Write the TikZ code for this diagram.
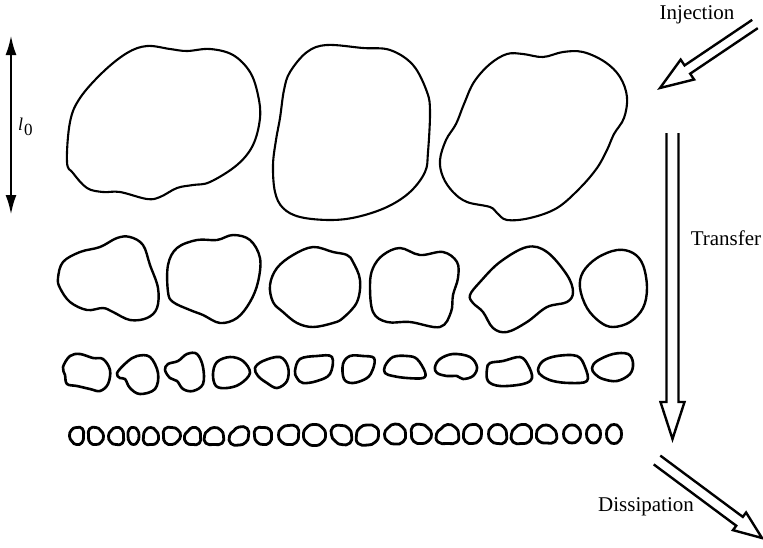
\documentclass[tikz,border=0pt]{standalone}
\usepackage{fontspec}
\setmainfont{Liberation Serif}
\usetikzlibrary{calc,arrows.meta}
\tikzset{
 bigb/.style={line width=2.1pt, line join=round},
 midb/.style={line width=2.4pt, line join=round},
 smlb/.style={line width=2.6pt, line join=round},
 tinyb/.style={line width=2.8pt, line join=round},
 hol/.style={line width=2.4pt, line join=miter},
 lbl/.style={font=\fontsize{21}{25}\selectfont, inner sep=0pt},
 lenarrow/.style={line width=2.8pt, {Latex[length=20pt,width=11pt]}-{Latex[length=20pt,width=11pt]}},
}
\newcommand\hollowarrow[5]{%
 \coordinate (hb) at ($(#2)!#5!(#1)$);
 \draw[hol] ($(#1)!#3!90:(#2)$) -- ($(hb)!#3!90:(#2)$) -- ($(hb)!#4!90:(#2)$) -- (#2)
   -- ($(hb)!#4!-90:(#2)$) -- ($(hb)!#3!-90:(#2)$) -- ($(#1)!#3!-90:(#2)$);
}
\newcommand\sblob[8]{\draw[tinyb] plot[smooth cycle, tension=0.9] coordinates {
({#1+#3},{#2}) ({#1+0.7071*#5*#3},{#2+0.7071*#5*#4}) ({#1},{#2+#4}) ({#1-0.7071*#6*#3},{#2+0.7071*#6*#4})
({#1-#3},{#2}) ({#1-0.7071*#7*#3},{#2-0.7071*#7*#4}) ({#1},{#2-#4}) ({#1+0.7071*#8*#3},{#2-0.7071*#8*#4})};}
\begin{document}
\begin{tikzpicture}[x=1pt,y=-1pt]
\useasboundingbox (0,0) rectangle (763,547);
% row 1
\draw[bigb] plot[smooth cycle, tension=0.6] coordinates {(67,162) (70,122) (80,98) (103,72) (127,53) (147,46) (170,49) (187,51) (210,49) (233,55) (250,72) (258,95) (260,118) (253,145) (237,165) (210,182) (193,185) (177,188) (160,197) (147,199) (120,192) (103,192) (87,188) (73,173)};
\draw[bigb] plot[smooth cycle, tension=0.6] coordinates {(273,165) (276,140) (280,118) (284,90) (290,72) (307,52) (327,45) (363,48) (390,50) (413,65) (427,92) (430,112) (428,152) (425,172) (410,192) (387,207) (357,217) (330,220) (300,217) (283,208) (275,192)};
\draw[bigb] plot[smooth cycle, tension=0.6] coordinates {(440,160) (446,140) (456,124) (464,104) (474,82) (490,64) (507,54) (523,54) (543,57) (563,52) (583,52) (605,62) (620,77) (627,97) (624,118) (614,134) (607,150) (597,168) (580,188) (557,208) (530,218) (507,220) (497,213) (490,207) (467,202) (453,192) (443,177)};
% row 2
\draw[midb] plot[smooth cycle, tension=0.6] coordinates {(58,278) (63,262) (80,252) (100,247) (117,238) (130,237) (143,245) (150,265) (158,288) (157,308) (147,318) (130,320) (113,312) (103,308) (87,310) (70,302) (60,288)};
\draw[midb] plot[smooth cycle, tension=0.6] coordinates {(168,292) (168,265) (177,248) (197,240) (217,240) (233,235) (250,240) (260,258) (258,282) (250,302) (237,318) (220,323) (203,315) (190,310) (173,302)};
\draw[midb] plot[smooth cycle, tension=0.6] coordinates {(270,285) (277,268) (293,255) (313,247) (333,252) (347,255) (353,262) (360,280) (357,302) (343,318) (333,323) (313,327) (297,323) (283,312) (273,302)};
\draw[midb] plot[smooth cycle, tension=0.6] coordinates {(370,285) (373,268) (383,255) (400,248) (420,255) (443,252) (457,262) (458,278) (453,295) (451,312) (440,327) (410,322) (387,322) (373,312)};
\draw[midb] plot[smooth cycle, tension=0.6] coordinates {(470,295) (480,282) (500,262) (527,247) (547,252) (567,275) (573,292) (567,302) (547,307) (527,322) (507,332) (493,328) (483,312) (473,303)};
\draw[midb] plot[smooth cycle, tension=0.6] coordinates {(580,288) (583,272) (597,258) (617,250) (633,253) (643,265) (647,288) (643,308) (630,322) (613,327) (600,322) (587,308)};
% row 3
\draw[smlb] plot[smooth cycle, tension=0.6] coordinates {(63,367) (70,356) (80,354) (93,358) (103,359) (110,370) (108,384) (100,391) (90,389) (77,386) (67,384) (65,375)};
\draw[smlb] plot[smooth cycle, tension=0.6] coordinates {(117,373) (127,362) (137,356) (150,357) (158,373) (155,389) (140,394) (130,388) (125,379) (120,378)};
\draw[smlb] plot[smooth cycle, tension=0.6] coordinates {(165,370) (168,364) (178,361) (187,354) (197,354) (203,367) (203,384) (193,391) (183,389) (177,381) (170,378)};
\draw[smlb] plot[smooth cycle, tension=0.6] coordinates {(213,374) (217,362) (230,357) (243,361) (250,373) (240,384) (227,388) (216,386)};
\draw[smlb] plot[smooth cycle, tension=0.6] coordinates {(255,368) (263,361) (280,357) (288,367) (287,381) (277,388) (267,383) (258,376)};
\draw[smlb] plot[smooth cycle, tension=0.6] coordinates {(295,371) (300,359) (317,356) (332,357) (330,374) (317,381) (303,383) (297,378)};
\draw[smlb] plot[smooth cycle, tension=0.6] coordinates {(343,364) (350,356) (363,356) (374,358) (373,369) (367,378) (353,383) (344,379)};
\draw[smlb] plot[smooth cycle, tension=0.6] coordinates {(385,366) (393,357) (407,356) (417,359) (425,372) (423,378) (407,378) (393,376) (385,373)};
\draw[smlb] plot[smooth cycle, tension=0.6] coordinates {(435,367) (440,359) (453,354) (470,357) (477,367) (473,376) (463,379) (457,376) (447,376) (437,373)};
\draw[smlb] plot[smooth cycle, tension=0.6] coordinates {(487,369) (490,363) (503,361) (520,357) (528,365) (532,378) (523,384) (500,386) (488,381)};
\draw[smlb] plot[smooth cycle, tension=0.6] coordinates {(538,370) (543,361) (557,356) (577,356) (585,367) (587,381) (570,383) (553,381) (542,376)};
\draw[smlb] plot[smooth cycle, tension=0.6] coordinates {(592,368) (597,361) (613,354) (628,354) (633,363) (630,374) (617,381) (603,379) (595,374)};
% row 4
\sblob{76.5}{436}{7}{8.5}{1.1}{0.9}{1.0}{1.2}
\sblob{96}{436}{7.5}{8.5}{1.0}{1.1}{1.2}{0.9}
\sblob{116}{436}{7.5}{8.5}{1.2}{1.0}{0.9}{1.1}
\sblob{133.5}{436}{5.5}{8.5}{1.0}{1.0}{1.1}{1.0}
\sblob{151}{436}{7.5}{8.5}{1.1}{1.2}{1.0}{0.9}
\sblob{172}{436}{8.5}{8.5}{0.9}{1.1}{1.2}{1.0}
\sblob{192.5}{436}{8}{8.5}{1.2}{1.1}{0.8}{1.1}
\sblob{214}{436}{9.5}{8.5}{1.2}{1.2}{0.9}{1.0}
\sblob{239}{436}{9.5}{9}{1.0}{1.2}{0.8}{1.2}
\sblob{263}{436}{8.5}{8.5}{1.1}{1.0}{1.2}{1.1}
\sblob{288.5}{435}{10}{9.5}{1.1}{1.0}{1.0}{1.2}
\sblob{314.5}{435}{11}{10.5}{1.0}{1.0}{1.0}{1.0}
\sblob{341.5}{435}{10}{9.5}{1.2}{0.9}{1.2}{1.0}
\sblob{367.5}{435}{11}{10}{1.0}{1.2}{1.0}{1.1}
\sblob{395}{434}{10.5}{10}{1.1}{1.0}{0.9}{1.0}
\sblob{421.5}{434}{10}{9.5}{1.0}{1.1}{1.2}{0.9}
\sblob{447.5}{434}{11}{9.5}{1.2}{1.2}{0.8}{1.0}
\sblob{472.5}{434}{9}{9.5}{1.0}{1.1}{1.0}{1.1}
\sblob{497.5}{434}{9}{9.5}{1.2}{1.0}{1.0}{1.0}
\sblob{521.5}{434}{10}{9.5}{1.1}{1.2}{0.9}{1.1}
\sblob{546.5}{434}{10}{9}{1.2}{1.1}{1.0}{0.9}
\sblob{572}{434}{8.5}{9}{1.0}{1.0}{1.0}{1.0}
\sblob{593.5}{434}{7}{9}{1.0}{1.0}{1.0}{1.0}
\sblob{614}{434}{7.5}{9.5}{1.0}{1.0}{1.0}{1.0}
% arrows
\coordinate (lt) at (11,35);
\coordinate (lb) at (11,215);
\draw[lenarrow] (lt) -- (lb);
\coordinate (injS) at (755,24);
\coordinate (injE) at (660,88);
\hollowarrow{injS}{injE}{5pt}{12pt}{33pt}
\coordinate (trS) at (672.5,133);
\coordinate (trE) at (672.5,439);
\hollowarrow{trS}{trE}{6pt}{12pt}{37pt}
\coordinate (diS) at (657,460);
\coordinate (diE) at (762,538);
\hollowarrow{diS}{diE}{5.5pt}{11pt}{28pt}
% labels
\node[lbl] (inj) at (697,15) {Injection};
\node[lbl] (tr) at (726,238) {Transfer};
\node[lbl] (dis) at (646,507) {Dissipation};
\node[lbl, anchor=west] (l0) at (18,127) {\fontsize{18}{20}\selectfont\textit{l}\kern1pt\raisebox{-5pt}{\fontsize{17}{20}\selectfont 0}};
\end{tikzpicture}
\end{document}
